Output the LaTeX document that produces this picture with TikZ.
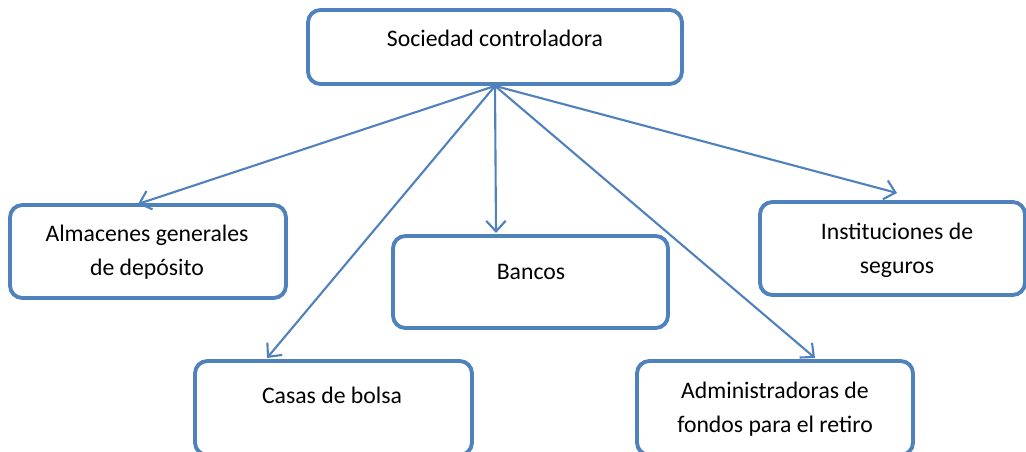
\documentclass[tikz,border=0pt]{standalone}
\usepackage{fontspec}
\setmainfont{Carlito}
\usetikzlibrary{arrows.meta}
\definecolor{boxblue}{RGB}{79,129,189}
\tikzset{
  box/.style={draw=boxblue,line width=2.2pt,rounded corners=7pt,inner sep=0pt},
  lbl/.style={align=center,font=\fontsize{13.5}{19.5}\selectfont,inner sep=0pt},
  link/.style={draw=boxblue,line width=1.2pt,-{Straight Barb[length=6pt,width=11pt]}}
}
\begin{document}
\begin{tikzpicture}
  [x=0.02cm,y=-0.02cm]
  \useasboundingbox (0,0) rectangle (1026,452);
  \clip (0,0) rectangle (1026,452);

  \node (top)[box,minimum width=7.48cm,minimum height=1.48cm] at (495,47) {};
  \node (alm)[box,minimum width=5.52cm,minimum height=1.86cm] at (148,251.5) {};
  \node (ban)[box,minimum width=5.5cm,minimum height=1.84cm] at (530.5,282) {};
  \node (ins)[box,minimum width=5.3cm,minimum height=1.86cm] at (892.5,248.5) {};
  \node (cas)[box,minimum width=5.54cm,minimum height=1.88cm] at (333.5,408) {};
  \node (adm)[box,minimum width=5.52cm,minimum height=1.88cm] at (775,408) {};

  \node (topTxt)[lbl] at (495,38) {Sociedad controladora};
  \node (almTxt)[lbl] at (147,252.5) {Almacenes generales\\de depósito};
  \node (banTxt)[lbl] at (531,272) {Bancos};
  \node (insTxt)[lbl] at (897,250) {Instituciones de\\seguros};
  \node (casTxt)[lbl] at (332,395) {Casas de bolsa};
  \node (admTxt)[lbl] at (775,409.5) {Administradoras de\\fondos para el retiro};

  \coordinate (tAlm) at (138,204);
  \coordinate (tCas) at (267,358);
  \coordinate (tBan) at (496,233);
  \coordinate (tAdm) at (815,358);
  \coordinate (tIns) at (897,193);

 \foreach \to in {tAlm,tCas,tBan,tAdm,tIns}
    \draw[link] (top.south) -- (\to);

\end{tikzpicture}
\end{document}
